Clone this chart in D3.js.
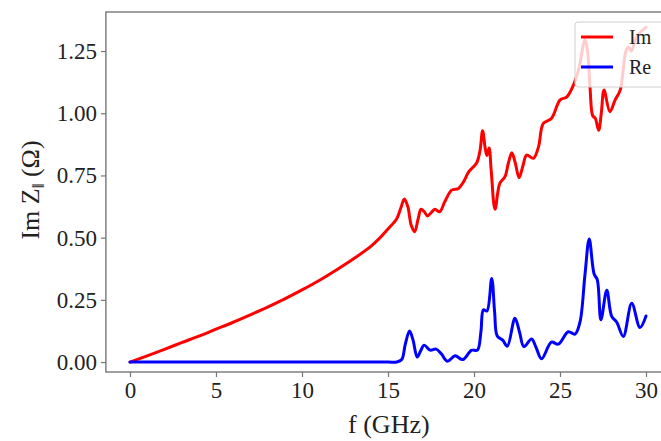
<!DOCTYPE html>
<html>
<head>
<meta charset="utf-8">
<script src="https://cdn.jsdelivr.net/npm/d3@7"></script>
<style>
  html, body { margin: 0; padding: 0; background: #fff; }
  svg { display: block; }
</style>
</head>
<body>
<svg id="chart" width="661" height="441"></svg>
<script>
// ---- data ----
const xTicks = [0, 5, 10, 15, 20, 25, 30];
const yTicks = [0, 0.25, 0.5, 0.75, 1.0, 1.25];

const imFreq = [0, 1, 2, 3, 4, 5, 6, 7, 8, 9, 10, 11, 12, 13, 14, 14.5, 15, 15.5, 15.75, 15.95,
  16.15, 16.35, 16.55, 16.75, 16.92, 17.1, 17.3, 17.5, 17.73, 18.0, 18.3, 18.7, 19.1, 19.4, 19.7,
  20.15, 20.35, 20.5, 20.65, 20.75, 20.88, 21.0, 21.22, 21.5, 21.8, 22.0, 22.2, 22.4, 22.62, 22.85,
  23.06, 23.45, 23.75, 24.03, 24.5, 25.0, 25.4, 25.85, 26.1, 26.45, 26.6, 26.75, 26.9, 27.05, 27.25,
  27.4, 27.56, 27.9, 28.2, 28.5, 28.85, 29.0, 29.15, 29.45, 30.0];
const imValues = [0, 0.025, 0.051, 0.078, 0.104, 0.132, 0.160, 0.190, 0.221, 0.254, 0.290, 0.328, 0.370, 0.415, 0.465, 0.497, 0.535, 0.575, 0.620, 0.655,
  0.625, 0.550, 0.524, 0.575, 0.614, 0.605, 0.587, 0.600, 0.614, 0.604, 0.644, 0.691, 0.698, 0.725, 0.765,
  0.800, 0.850, 0.930, 0.860, 0.830, 0.860, 0.770, 0.614, 0.718, 0.745, 0.800, 0.841, 0.800, 0.741, 0.790,
  0.832, 0.819, 0.865, 0.959, 0.979, 1.053, 1.066, 1.125, 1.180, 1.295, 1.250, 1.100, 0.990, 0.980, 0.932,
  1.000, 1.093, 1.006, 1.053, 1.093, 1.254, 1.265, 1.250, 1.307, 1.345];

const reFreq = [0, 5, 10, 15, 15.5, 15.8, 16.0, 16.25, 16.45, 16.7, 16.9, 17.1, 17.45, 17.8, 18.1, 18.45,
  18.9, 19.35, 19.85, 20.2, 20.4, 20.55, 20.75, 21.03, 21.2, 21.35, 21.67, 21.94, 22.38, 22.65, 22.9,
  23.35, 23.6, 23.93, 24.5, 24.9, 25.48, 25.87, 26.16, 26.45, 26.7, 26.98, 27.17, 27.38, 27.72, 28.0,
  28.3, 28.68, 29.17, 29.65, 30.0];
const reValues = [0, 0, 0, 0, 0, 0.01, 0.07, 0.125, 0.09, 0.02, 0.045, 0.068, 0.048, 0.052, 0.033, 0.003,
  0.025, 0.01, 0.047, 0.048, 0.12, 0.21, 0.205, 0.336, 0.2, 0.105, 0.088, 0.064, 0.176, 0.12, 0.062,
  0.093, 0.06, 0.013, 0.08, 0.072, 0.122, 0.112, 0.16, 0.35, 0.495, 0.355, 0.33, 0.17, 0.289, 0.185,
  0.16, 0.103, 0.236, 0.139, 0.185];

const seriesNames = ["Im", "Re"];
const seriesColors = ["#ff0000", "#0000ff"];

// ---- layout ----
const svg = d3.select("#chart");
const font = "'Liberation Serif', 'Times New Roman', 'DejaVu Serif', serif";

const x = d3.scaleLinear().domain([-1.4, 31.5]).range([105.9, 671.8]);
const y = d3.scaleLinear().domain([-0.04, 1.407]).range([372, 12]);

const pLeft = x.range()[0], pRight = x.range()[1];
const pTop = y.range()[1], pBottom = y.range()[0];

const line = d3.line().x(d => x(d[0])).y(d => y(d[1])).curve(d3.curveCatmullRom.alpha(0.5));

const imData = imFreq.map((f, i) => [f, imValues[i]]);
const reData = reFreq.map((f, i) => [f, reValues[i]]);

svg.append("path").datum(imData).attr("d", line)
  .attr("fill", "none").attr("stroke", seriesColors[0]).attr("stroke-width", 3)
  .attr("stroke-linejoin", "round").attr("stroke-linecap", "round");
svg.append("path").datum(reData).attr("d", line)
  .attr("fill", "none").attr("stroke", seriesColors[1]).attr("stroke-width", 3)
  .attr("stroke-linejoin", "round").attr("stroke-linecap", "round");

// axes
const spineColor = "#777";
const xAxis = svg.append("g").attr("transform", `translate(0,${pBottom})`)
  .call(d3.axisBottom(x).tickValues(xTicks).tickFormat(d3.format("d")).tickSize(5).tickPadding(5));
const yAxis = svg.append("g").attr("transform", `translate(${pLeft},0)`)
  .call(d3.axisLeft(y).tickValues(yTicks).tickFormat(d3.format(".2f")).tickSize(5).tickPadding(4));
[xAxis, yAxis].forEach(g => {
  g.select(".domain").remove();
  g.selectAll(".tick line").attr("stroke", spineColor).attr("stroke-width", 1.2);
  g.selectAll(".tick text").attr("fill", "#222").style("font-family", font).style("font-size", "23px");
});

// spines
svg.append("rect").attr("x", pLeft).attr("y", pTop).attr("width", pRight - pLeft).attr("height", pBottom - pTop)
  .attr("fill", "none").attr("stroke", spineColor).attr("stroke-width", 1.4);

// axis labels
svg.append("text").attr("x", (pLeft + pRight) / 2).attr("y", 433).attr("text-anchor", "middle")
  .style("font-family", font).style("font-size", "26px").attr("fill", "#222").text("f (GHz)");

const yl = svg.append("text").attr("transform", `translate(39,${(pTop + pBottom) / 2 - 2}) rotate(-90)`)
  .attr("text-anchor", "middle").style("font-family", font).style("font-size", "26px").attr("fill", "#222");
yl.append("tspan").text("Im Z");
yl.append("tspan").attr("dy", 5).style("font-size", "17px").text("\u2016");
yl.append("tspan").attr("dy", -5).text(" (\u03A9)");

// legend
const lg = svg.append("g");
lg.append("rect").attr("x", 575).attr("y", 22).attr("width", 95).attr("height", 65).attr("rx", 3)
  .attr("fill", "#fff").attr("fill-opacity", 0.8).attr("stroke", "#d0d0d0").attr("stroke-width", 1);
seriesNames.forEach((name, i) => {
  const yy = 37 + i * 30;
  lg.append("line").attr("x1", 581).attr("x2", 613).attr("y1", yy).attr("y2", yy)
    .attr("stroke", seriesColors[i]).attr("stroke-width", 3);
  lg.append("text").attr("x", 629).attr("y", yy + 7).style("font-family", font).style("font-size", "20px")
    .attr("fill", "#222").text(name);
});
</script>
</body>
</html>
